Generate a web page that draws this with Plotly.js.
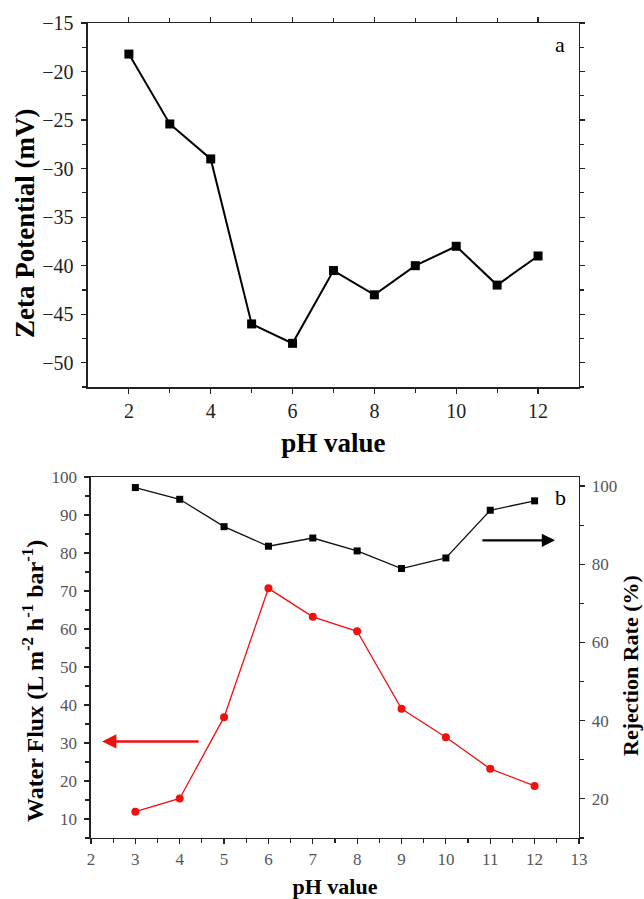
<!DOCTYPE html>
<html><head><meta charset="utf-8">
<script src="https://cdn.plot.ly/plotly-3.0.1.min.js"></script>
<style>html,body{margin:0;padding:0;background:#fff}#c{width:644px;height:899px}</style>
</head><body><div id="c"></div>
<script>
const phA = [2,3,4,5,6,7,8,9,10,11,12];
const zeta = [-18.2,-25.4,-29.0,-46.0,-48.0,-40.5,-43.0,-40.0,-38.0,-42.0,-39.0];
const phB = [3,4,5,6,7,8,9,10,11,12];
const flux = [11.9,15.4,36.8,70.7,63.2,59.4,39.0,31.5,23.2,18.7];
const rejection = [99.6,96.6,89.6,84.6,86.7,83.4,78.9,81.6,93.8,96.2];

const serif = "Liberation Serif, Times New Roman, serif";
const axBase = {showline:true, linecolor:'#222', linewidth:1.5, mirror:'ticks', ticks:'outside',
  tickcolor:'#222', ticklen:5, tickwidth:1.2, showgrid:false, zeroline:false, automargin:false};

const traces = [
  {x:phA, y:zeta, xaxis:'x', yaxis:'y', mode:'lines+markers', line:{color:'#000', width:2},
   marker:{symbol:'square', size:9, color:'#000'}, showlegend:false},
  {x:phB, y:rejection, xaxis:'x2', yaxis:'y3', mode:'lines+markers', line:{color:'#111', width:1.3},
   marker:{symbol:'square', size:7, color:'#000'}, showlegend:false},
  {x:phB, y:flux, xaxis:'x2', yaxis:'y2', mode:'lines+markers', line:{color:'#f01010', width:1.3},
   marker:{symbol:'circle', size:8, color:'#f01010'}, showlegend:false}
];

const topTick = {size:20, color:'#222', family:serif};
const botTick = {size:17, color:'#555', family:serif};

const layout = {
  width:644, height:899, margin:{l:0,r:0,t:0,b:0}, paper_bgcolor:'#fff', plot_bgcolor:'#fff',
  font:{family:serif, color:'#000'},
  xaxis: Object.assign({}, axBase, {domain:[0.1366,0.899], anchor:'y', range:[1,13],
    tickvals:[2,4,6,8,10,12], tickfont:topTick,
    minor:{tickvals:[3,5,7,9,11], ticks:'outside', ticklen:4, tickcolor:'#222'},
    title:{text:'<b>pH value</b>', font:{size:27, family:serif, color:'#000'}, standoff:12}}),
  yaxis: Object.assign({}, axBase, {domain:[0.5695,0.9744], anchor:'x', range:[-52.5,-15],
    tickvals:[-15,-20,-25,-30,-35,-40,-45,-50], tickfont:topTick, ticklabelstandoff:4,
    minor:{dtick:2.5, ticks:'outside', ticklen:4, tickcolor:'#222'}}),
  xaxis2: Object.assign({}, axBase, {domain:[0.1413,0.899], anchor:'y2', range:[2,13],
    dtick:1, tickfont:botTick, mirror:true,
    minor:{dtick:0.5, ticks:'outside', ticklen:4, tickcolor:'#222'},
    title:{text:'<b>pH value</b>', font:{size:22, family:serif, color:'#000'}, standoff:16}}),
  yaxis2: Object.assign({}, axBase, {domain:[0.0679,0.4694], anchor:'x2', range:[5,100],
    dtick:10, tick0:0, tickfont:botTick, mirror:false, ticklabelstandoff:4,
    minor:{dtick:5, ticks:'outside', ticklen:4, tickcolor:'#222'}}),
  yaxis3: Object.assign({}, axBase, {overlaying:'y2', side:'right', anchor:'x2', range:[10,102.3],
    tickvals:[20,40,60,80,100], tickfont:botTick, mirror:false, ticklabelstandoff:3,
    minor:{tickvals:[10,30,50,70,90], ticks:'outside', ticklen:4, tickcolor:'#222'}}),
  annotations: [
    {xref:'paper', yref:'paper', x:25/644, y:1-224/899, xanchor:'center', yanchor:'middle',
     text:'<b>Zeta Potential (mV)</b>', textangle:-90,
     showarrow:false, font:{size:27, family:serif, color:'#000'}},
    {xref:'paper', yref:'paper', x:33/644, y:1-681/899, xanchor:'center', yanchor:'middle',
     text:'<b>Water Flux (L m<sup>-2</sup> h<sup>-1</sup> bar<sup>-1</sup>)</b>', textangle:-90,
     showarrow:false, font:{size:24, family:serif, color:'#000'}},
    {xref:'paper', yref:'paper', x:630/644, y:1-666/899, xanchor:'center', yanchor:'middle',
     text:'<b>Rejection Rate (%)</b>', textangle:-90,
     showarrow:false, font:{size:22, family:serif, color:'#000'}},
    {xref:'paper', yref:'paper', x:560/644, y:1-45/899, xanchor:'center', yanchor:'middle',
     text:'a', showarrow:false, font:{size:22, family:serif}},
    {xref:'paper', yref:'paper', x:560/644, y:1-497/899, xanchor:'center', yanchor:'middle',
     text:'b', showarrow:false, font:{size:22, family:serif}},
    {xref:'x2', yref:'y2', axref:'x2', ayref:'y2', x:2.25, y:30.4, ax:4.46, ay:30.4, text:'', showarrow:true,
     arrowhead:2, arrowsize:1.1, arrowwidth:2.6, arrowcolor:'#f01010'},
    {xref:'x2', yref:'y3', axref:'x2', ayref:'y3', x:12.46, y:86.1, ax:10.79, ay:86.1, text:'', showarrow:true,
     arrowhead:2, arrowsize:1.1, arrowwidth:2.4, arrowcolor:'#000'}
  ]
};
Plotly.newPlot('c', traces, layout, {displayModeBar:false, staticPlot:true});
</script></body></html>
